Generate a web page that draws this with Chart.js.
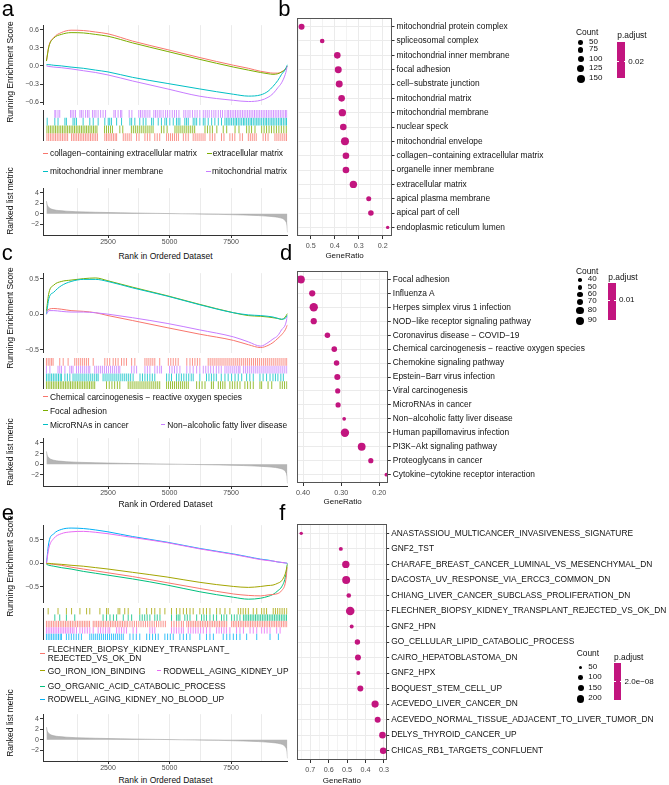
<!DOCTYPE html>
<html>
<head>
<meta charset="utf-8">
<script src="https://cdn.jsdelivr.net/npm/chart.js@4.4.1/dist/chart.umd.min.js"></script>
<style>
  body { margin: 0; background: #fff; }
  #fig { position: relative; width: 669px; height: 785px; overflow: hidden; font-family: "Liberation Sans", Arial, sans-serif; }
  #fig canvas { position: absolute; }
  .t { position: absolute; white-space: nowrap; line-height: 1; }
</style>
</head>
<body>
<div id="fig"></div>
<script>
// ---------- GSEA data (shared ranking) ----------
const rankMin = -140, rankMax = 9790;
const rankTicks = [2500, 5000, 7500];
const rankGrid = [1250, 2500, 3750, 5000, 6250, 7500, 8750];

const metricRank = [0, 30, 80, 150, 300, 500, 800, 1200, 2000, 3000, 4000, 5000, 6000, 7000, 8000, 8600, 9000, 9300, 9500, 9650, 9720, 9770, 9790];
const metricVal = [2.4, 1.7, 1.3, 1.0, 0.75, 0.6, 0.48, 0.38, 0.27, 0.17, 0.09, 0.02, -0.05, -0.13, -0.25, -0.36, -0.48, -0.62, -0.8, -1.1, -1.5, -2.3, -3.6];
const metricTicks = [4, 2, 0, -2];

const esRank = [0, 100, 300, 600, 1000, 1500, 2000, 2500, 3500, 4900, 6200, 7600, 8200, 8700, 9000, 9200, 9400, 9550, 9700, 9790];

// panel a
const esA_collagen = [0.08, 0.33, 0.47, 0.55, 0.59, 0.585, 0.56, 0.53, 0.41, 0.27, 0.14, 0.01, -0.04, -0.09, -0.11, -0.12, -0.12, -0.1, -0.05, 0.0];
const esA_ecm      = [0.08, 0.32, 0.46, 0.52, 0.55, 0.545, 0.52, 0.49, 0.38, 0.24, 0.11, -0.02, -0.07, -0.11, -0.13, -0.14, -0.13, -0.1, -0.06, 0.0];
const esA_inner    = [0.02, 0.02, 0.01, 0.0, -0.02, -0.04, -0.07, -0.1, -0.19, -0.29, -0.38, -0.47, -0.5, -0.48, -0.42, -0.34, -0.24, -0.14, -0.06, 0.02];
const esA_matrix   = [0.0, -0.01, -0.02, -0.03, -0.05, -0.08, -0.11, -0.15, -0.25, -0.38, -0.5, -0.57, -0.59, -0.57, -0.52, -0.46, -0.36, -0.28, -0.14, 0.0];
// panel c
const esC_chem   = [0.04, 0.07, 0.08, 0.07, 0.05, 0.04, 0.02, -0.02, -0.09, -0.19, -0.28, -0.37, -0.43, -0.47, -0.44, -0.4, -0.34, -0.29, -0.22, -0.15];
const esC_focal  = [0.05, 0.3, 0.41, 0.46, 0.48, 0.5, 0.51, 0.47, 0.38, 0.26, 0.14, 0.02, -0.02, -0.03, -0.04, -0.05, -0.06, -0.075, -0.04, 0.01];
const esC_mirna  = [0.0, 0.22, 0.31, 0.4, 0.46, 0.49, 0.49, 0.46, 0.37, 0.255, 0.135, 0.02, -0.01, -0.02, -0.03, -0.04, -0.06, -0.07, -0.06, -0.01];
const esC_nafld  = [0.0, 0.05, 0.05, 0.04, 0.03, 0.03, 0.02, 0.0, -0.05, -0.13, -0.22, -0.32, -0.39, -0.45, -0.4, -0.35, -0.3, -0.22, -0.15, -0.03];
// panel e
const esE_flechner = [0.0, -0.01, -0.02, -0.04, -0.08, -0.12, -0.16, -0.2, -0.28, -0.41, -0.53, -0.65, -0.68, -0.69, -0.67, -0.66, -0.64, -0.58, -0.42, -0.08];
const esE_iron     = [0.0, 0.0, -0.01, -0.02, -0.04, -0.06, -0.09, -0.12, -0.19, -0.29, -0.4, -0.49, -0.51, -0.49, -0.47, -0.46, -0.42, -0.37, -0.22, -0.02];
const esE_organic  = [-0.02, -0.04, -0.06, -0.09, -0.12, -0.17, -0.21, -0.25, -0.33, -0.46, -0.6, -0.72, -0.76, -0.74, -0.7, -0.66, -0.58, -0.5, -0.3, 0.0];
const esE_rodNoBl  = [0.0, 0.45, 0.63, 0.72, 0.75, 0.74, 0.71, 0.67, 0.57, 0.45, 0.32, 0.2, 0.14, 0.09, 0.07, 0.05, 0.03, 0.02, 0.01, 0.0];
const esE_rodUp    = [0.0, 0.33, 0.53, 0.63, 0.67, 0.68, 0.66, 0.63, 0.55, 0.44, 0.31, 0.19, 0.13, 0.08, 0.06, 0.05, 0.03, 0.02, 0.01, 0.0];

// rug hits, in hundreds of rank
const rugA_matrix = [3.4,3.8,4.7,5.4,9.8,10.4,11.1,11.8,13.6,14.2,14.9,15.9,16.7,17.3,18.7,19.4,20.1,21,22,23,24,27.4,28,29.1,30.1,30.6,33.6,34.7,37.5,38.2,38.9,39.7,40.4,41.2,42,43.6,44.3,45,45.8,46.5,47.4,48.4,49.2,50.1,51.1,52,52.8,53.8,55.8,56.6,57.5,58.3,59.3,60.3,61.2,62.3,63.7,64.5,65.3,66.1,67.1,68,68.8,69.8,70.7,71.5,72.5,73.4,74,74.7,75.4,76.1,76.8,77.5,78.2,78.9,79.6,80.3,81,81.7,82.4,83.1,83.8,84.5,85.2,85.9,86.6,87.3,88,88.7,89.4,90.1,90.8,91.5,92.2,92.9,93.6,94.3,95,95.7,96.4,97.1,97.6];
const rugA_inner = [0.3,3.4,4.7,7.5,8.1,10.8,11.5,12.2,14.9,17.6,19,21,23.7,25.1,25.7,26.4,28.5,30.5,33.9,34.6,35.9,37.9,39.3,40.4,42.7,43.4,45.4,46.7,48.1,48.8,50.1,51.5,52.8,53.5,54.2,56.2,56.9,57.6,59.6,60.3,61,62.3,63.7,64.4,65.7,67.1,68.4,69.8,71.1,72.5,73.2,73.8,74.5,75.2,75.9,76.6,77.2,77.9,78.6,79.3,80,80.6,81.3,82,82.7,83.3,84,84.7,85.4,86,86.7,87.4,88.1,88.8,89.4,90.1,90.8,91.5,92.1,92.8,93.5,94.2,94.9,95.5,96.2,96.9,97.5];
const rugA_ecm = [0.2,0.9,1.6,2.3,3,3.7,4.4,5.1,5.8,6.5,7.2,7.9,8.6,9.3,10,10.7,11.4,12.1,12.8,13.5,14.2,14.9,15.6,16.3,17,17.7,18.4,19.1,19.8,20.5,23.6,24.4,25.2,26,26.8,29.8,31,34.5,35.3,36.1,36.9,37.7,38.5,39.3,40.1,40.9,41.7,42.5,43.3,46.7,47.7,49,52.2,53,53.8,54.6,55.4,56.2,57,57.8,58.6,59.4,60.2,64.4,65.4,66.4,67.4,69.2,71.8,73.2,76.6,78.2,81.3,82.3,83.3,84.7,87.4,88.4,89.4,90.4,91.4,92.4,93.4,94.4,95.4,96.4,97.4];
const rugA_collagen = [0.2,0.9,1.6,2.3,3,3.7,4.4,5.1,5.8,6.5,7.2,7.9,8.6,10.2,10.9,11.6,12.3,13,13.7,14.4,15.1,15.8,16.5,17.2,17.9,18.6,19.3,20,20.7,23.7,24.4,25.1,25.8,26.5,27.2,27.9,28.5,31.2,32,32.8,33.6,34.4,36.6,37.6,40,41,42,44,45,46,48.8,49.6,50.4,51.2,52,52.8,53.6,55.6,56.6,57.6,59.6,60.4,61.2,62,62.8,63.6,64.4,66.4,67.4,68.4,71.1,72.1,74.5,75.5,76.5,78.6,79.6,82,82.8,83.6,84.4,85.2,88,89,90,92.8,93.6,94.4,95.2,96,96.8,97.5];

const rugC_chem = [0,0.7,1.4,2.1,2.7,5.4,6.8,8.8,11.5,12.3,13.1,13.9,14.7,15.5,16.3,17.1,19,23.7,24.7,25.7,27.1,28.1,29.1,30.5,31.5,32.5,34.6,35.9,40,40.8,41.6,42.4,43.2,44,46,49.5,50.5,51.5,52.5,53.5,57,58.3,59.3,60.3,61.3,62.3,65.7,66.5,67.3,68.1,68.9,69.7,70.5,71.3,72.1,72.9,73.7,74.5,75.3,76.1,76.9,77.7,78.5,79.3,80.1,80.9,81.7,82.5,83.3,84.1,84.9,85.7,86.5,87.3,88.1,88.9,89.7,90.5,91.3,92.1,92.9,93.7,94.5,95.3,96.1,96.9,97.6];
const rugC_nafld = [0,1.4,4.7,5.4,6.1,7.5,9.5,10.2,10.8,12.2,13,13.8,14.6,15.4,16.2,17,17.6,19.6,20.4,21.2,22,22.8,23.6,24.4,25.2,26,26.8,27.6,28.4,29.2,29.8,34.6,35.6,36.6,40,41,42,44,45,46,46.7,50,51,52,53,54.2,57,58.3,59.6,61,62.3,63.7,64.7,65.7,66.7,67.8,69,70,71,72.5,73.3,74.1,74.9,75.7,76.5,77.3,78.1,78.6,80,80.8,81.6,82.4,83.2,84,84.8,85.6,86.4,87.2,88,88.8,89.6,90.4,91.2,92,92.8,93.6,94.4,95.2,96,96.8,97.6];
const rugC_mirna = [0,0.7,1.4,2.1,2.8,3.5,4.2,4.9,5.6,6.1,7.5,8.5,9.5,10.8,11.6,12.4,13.2,14,14.8,15.6,16.4,17.2,18,18.8,19.6,20.4,21,23,23.8,24.6,25.4,26.2,27,27.8,28.6,29.4,30.2,31,31.8,32.6,33.4,34.2,35.2,38,39,40,41,42,43,44,48.8,49.8,50.8,52.8,53.8,54.8,55.8,56.8,57.8,58.8,59.6,62.3,65,66,67,68,69,71,72.5,73.8,75.2,76.6,77.9,79.3,81.3,82.6,84,86.7,88,89.4,90.8,92,93,94,95.2,96.2];
const rugC_focal = [0,0.7,1.4,2.1,2.8,3.5,4.2,4.9,5.6,6.3,7,7.7,8.4,9.1,9.8,10.5,11.2,11.9,12.6,13.3,14,14.7,15.4,16.1,16.8,17.5,18.2,18.9,19.6,24.4,25.5,26.6,27.7,28.8,29.8,33.2,34,34.8,35.6,36.4,37.2,38,38.8,39.6,40.4,41.2,42,42.8,43.6,44.4,45.2,46,48.8,49.6,50.4,51.2,52,52.8,53.6,54.4,55.2,56,56.8,57.6,61,62.1,63.2,64.4,67,67.8,69.8,70.7,71.6,72.5,74.5,75.5,76.5,77.5,78.6,80.6,81.7,82.8,84,86.7,87.4,90,91.5,94.9,95.8,96.7,97.6];

const rugE_iron = [0.7,4.7,8.1,10.2,13.6,16.3,17.6,21.7,24.4,25.1,29.1,29.8,31.8,33.2,37.9,40.7,42.7,44,46.1,48.1,50.8,52.8,54.2,55.6,56.9,58.3,59.6,62.3,63.7,65,66.4,69.1,70.5,72.5,74.5,77.9,78.9,79.9,80.9,82,84,85.4,87.4,88.4,89.4,92.1,93,93.9,94.8,95.7,96.6,97.6];
const rugE_organic = [3.4,5.4,8.1,11.5,23,24.4,25.8,27.2,28.5,31.2,33.2,34.6,37.9,38.9,39.9,40.9,42,44,45,46.1,50.8,52.8,53.5,54.2,56.2,57.2,58.3,61,63,64,65,66.4,67.8,69.1,71.1,72.1,73.2,75.2,76.3,77.4,78.6,80,80.7,81.4,82.1,82.8,83.5,84.2,84.9,85.6,86.3,87,87.7,88.4,89.1,89.8,90.5,91.2,91.9,92.6,93.3,94,94.7,95.4,96.1,96.8,97.5];
const rugE_flechner = [0,0.7,1.4,2.1,2.8,3.5,4.2,4.9,5.6,6.3,7,7.7,8.4,9.1,9.8,10.5,11.2,11.9,12.6,13.3,14,14.7,15.4,16.1,16.8,17.5,19,19.7,20.4,21.1,21.8,22.5,23.2,23.9,24.6,25.3,26,26.7,27.4,28.1,28.8,29.5,30.2,30.9,31.6,32.3,33,33.9,34.8,35.7,36.6,37.5,38.4,39.3,40.2,41.1,42,42.9,43.8,44.7,45.6,46.5,47.4,48.3,50.8,51.8,52.8,53.8,54.8,55.6,57,57.7,58.4,59.1,59.8,60.5,61.2,61.9,62.6,63.3,64,64.7,65.4,66.1,66.8,67.5,68.2,68.9,69.6,70.3,71,71.7,72.4,73.2,75.2,75.9,76.6,77.3,78,78.7,79.4,80.1,80.8,81.5,82.2,82.9,83.6,84.3,85,85.7,86.4,87.1,87.8,88.5,89.2,89.9,90.6,91.3,92,92.7,93.4,94.1,94.8,95.5,96.2,96.9,97.6];
const rugE_rodUp = [0,0.7,1.4,2.1,2.8,3.5,4.2,4.9,5.6,6.3,7,7.7,8.4,9.1,9.8,10.5,11.2,12.2,13.6,14.6,15.6,16.6,17.6,19,21,22,23,24,25,25.7,28.5,29.5,30.5,31.5,32.5,35.2,36.6,42,43,44,50.8,51.8,52.8,53.8,54.8,55.6,57.6,58.6,59.6,60.6,61.6,62.6,63.7,65,66.4,69.1,70.1,71.1,72.1,73.1,74.5,77.2,78.6,80,82.7,84,85.4,87.4,88.5,89.6,90.8,93.5,94.9];
const rugE_rodNoBl = [0,0.7,1.4,2.1,2.8,3.5,4.2,4.9,5.6,6.1,8.1,9.1,10.1,11.1,12.1,13.1,14.2,17.6,18.4,19.2,20,20.8,21.6,22.4,23.2,24,24.8,25.6,26.4,27.2,28,28.8,29.6,30.4,31.2,33.9,35.2,36.5,37.9,40.7,41.9,43.1,44.3,45.4,48.1,49.2,50.3,51.5,54.2,55.6,56.9,58.3,62.3,65,66.4,67.8,71.8,73.2,74.5,75.9,77.2,78.6,81.3,85.4,90.8,94.2];

// ---------- dot plot data ----------
const dotB_terms = ['mitochondrial protein complex', 'spliceosomal complex', 'mitochondrial inner membrane', 'focal adhesion', 'cell−substrate junction', 'mitochondrial matrix', 'mitochondrial membrane', 'nuclear speck', 'mitochondrial envelope', 'collagen−containing extracellular matrix', 'organelle inner membrane', 'extracellular matrix', 'apical plasma membrane', 'apical part of cell', 'endoplasmic reticulum lumen'];
const dotB_ratio = [0.538, 0.452, 0.389, 0.385, 0.381, 0.371, 0.368, 0.364, 0.357, 0.353, 0.353, 0.322, 0.258, 0.249, 0.179];
const dotB_count = [91, 50, 109, 120, 120, 109, 132, 109, 150, 109, 109, 132, 62, 79, 15];
const dotB_ticks = [0.5, 0.4, 0.3, 0.2];
const dotB_breaks = [50, 75, 100, 125, 150];

const dotD_terms = ['Focal adhesion', 'Influenza A', 'Herpes simplex virus 1 infection', 'NOD−like receptor signaling pathway', 'Coronavirus disease − COVID−19', 'Chemical carcinogenesis − reactive oxygen species', 'Chemokine signaling pathway', 'Epstein−Barr virus infection', 'Viral carcinogenesis', 'MicroRNAs in cancer', 'Non−alcoholic fatty liver disease', 'Human papillomavirus infection', 'PI3K−Akt signaling pathway', 'Proteoglycans in cancer', 'Cytokine−cytokine receptor interaction'];
const dotD_ratio = [0.406, 0.376, 0.372, 0.372, 0.336, 0.318, 0.312, 0.310, 0.309, 0.308, 0.292, 0.290, 0.246, 0.222, 0.181];
const dotD_count = [90, 70, 94, 70, 62, 62, 62, 68, 58, 58, 42, 94, 88, 58, 42];
const dotD_ticks = [0.4, 0.3, 0.2];
const dotD_breaks = [40, 50, 60, 70, 80, 90];

const dotF_terms = ['ANASTASSIOU_MULTICANCER_INVASIVENESS_SIGNATURE', 'GNF2_TST', 'CHARAFE_BREAST_CANCER_LUMINAL_VS_MESENCHYMAL_DN', 'DACOSTA_UV_RESPONSE_VIA_ERCC3_COMMON_DN', 'CHIANG_LIVER_CANCER_SUBCLASS_PROLIFERATION_DN', 'FLECHNER_BIOPSY_KIDNEY_TRANSPLANT_REJECTED_VS_OK_DN', 'GNF2_HPN', 'GO_CELLULAR_LIPID_CATABOLIC_PROCESS', 'CAIRO_HEPATOBLASTOMA_DN', 'GNF2_HPX', 'BOQUEST_STEM_CELL_UP', 'ACEVEDO_LIVER_CANCER_DN', 'ACEVEDO_NORMAL_TISSUE_ADJACENT_TO_LIVER_TUMOR_DN', 'DELYS_THYROID_CANCER_UP', 'CHICAS_RB1_TARGETS_CONFLUENT'];
const dotF_ratio = [0.749, 0.534, 0.507, 0.505, 0.491, 0.483, 0.475, 0.444, 0.441, 0.439, 0.428, 0.348, 0.334, 0.308, 0.304];
const dotF_count = [50, 72, 200, 222, 95, 245, 72, 125, 147, 72, 147, 192, 147, 170, 170];
const dotF_ticks = [0.7, 0.6, 0.5, 0.4, 0.3];
const dotF_breaks = [50, 100, 150, 200];

// ---------- colours ----------
const cRed = '#F8766D', cGreen = '#7CAE00', cCyan = '#00BFC4', cPurple = '#C77CFF';
const cOlive = '#A3A500', cTeal = '#00BF7D', cBlue = '#00B0F6', cPink = '#E76BF3';
const magenta = '#C2157F';

Chart.defaults.font.family = '"Liberation Sans", Arial, sans-serif';
const fig = document.getElementById('fig');

function addCanvas(x, y, w, h) {
  const c = document.createElement('canvas');
  c.width = w; c.height = h;
  c.style.left = x + 'px'; c.style.top = y + 'px';
  fig.appendChild(c);
  return c;
}

// y = visual centre of the text
function addText(str, x, y, o = {}) {
  const d = document.createElement('div');
  const fs = o.size || 8.5;
  d.className = 't';
  d.textContent = str;
  d.style.fontSize = fs + 'px';
  d.style.color = o.color || '#111';
  d.style.left = x + 'px';
  if (o.rotate) {
    d.style.top = y + 'px';
    d.style.transform = 'translate(-50%,-50%) rotate(-90deg)';
  } else {
    d.style.top = (y - fs / 2) + 'px';
    if (o.center) d.style.transform = 'translateX(-50%)';
  }
  fig.appendChild(d);
}

function addBox(x, y, w, h, color, radius) {
  const d = document.createElement('div');
  d.style.cssText = `position:absolute;left:${x}px;top:${y}px;width:${w}px;height:${h}px;background:${color};` + (radius ? 'border-radius:50%;' : '');
  fig.appendChild(d);
}

function baseOpts(scales, padLeft, padTop) {
  return {
    responsive: false, animation: false, events: [],
    layout: { padding: { left: padLeft || 0, right: padLeft ? 0 : 2.5, top: padTop || 0, bottom: 0 }, autoPadding: false },
    plugins: { legend: { display: false }, tooltip: { enabled: false } },
    scales
  };
}

const minus = v => (v < 0 ? '−' : '') + Math.abs(v);
const fmt1 = v => (v < 0 ? '−' : '') + Math.abs(v).toFixed(1);

function rankAxis(showLabels) {
  return {
    type: 'linear', min: rankMin, max: rankMax,
    afterBuildTicks: s => { s.ticks = rankGrid.map(v => ({ value: v })); },
    afterFit: s => { s.height = showLabels ? 14 : 0; },
    ticks: { display: showLabels, autoSkip: false, maxRotation: 0, font: { size: 7 }, color: '#4d4d4d', padding: 0,
      callback: v => rankTicks.includes(v) ? String(v) : '' },
    grid: { color: '#ebebeb', lineWidth: 1, drawTicks: showLabels, tickLength: 3,
      tickColor: ctx => (ctx.tick && rankTicks.includes(ctx.tick.value)) ? '#333' : 'rgba(0,0,0,0)' },
    border: { display: showLabels, color: '#333' }
  };
}

function leftAxis(min, max, ticks, fmt) {
  return {
    type: 'linear', min, max,
    afterFit: s => { s.width = 43; },
    afterBuildTicks: s => { s.ticks = ticks.map(v => ({ value: v })); },
    ticks: { callback: fmt, font: { size: 7 }, color: '#4d4d4d', padding: 1 },
    grid: { drawOnChartArea: false, tickLength: 3, tickColor: '#333' },
    border: { color: '#333', width: 1 }
  };
}

function esChart(top, bottom, curves, yMin, yMax, yTicks) {
  const cv = addCanvas(0, top, 290, bottom - top);
  new Chart(cv, {
    type: 'line',
    data: { datasets: curves.map(c => ({
      data: esRank.map((r, i) => ({ x: r, y: c.es[i] })),
      borderColor: c.color, borderWidth: 1, pointRadius: 0, cubicInterpolationMode: 'monotone'
    })) },
    options: baseOpts({ x: rankAxis(false), y: leftAxis(yMin, yMax, yTicks, fmt1) })
  });
}

function rugChart(top, bottom, rows) {
  const cv = addCanvas(0, top, 290, bottom - top);
  const rowH = (bottom - top) / rows.length;
  new Chart(cv, {
    type: 'scatter',
    data: { datasets: rows.map((row, i) => ({
      data: row.hits.map(h => ({ x: h * 100, y: i })),
      pointStyle: 'line', pointRotation: 90, pointRadius: rowH / 2,
      pointBorderWidth: 1, pointBorderColor: row.color + 'c8', borderColor: row.color
    })) },
    options: baseOpts({
      x: { type: 'linear', min: rankMin, max: rankMax, display: false },
      y: { type: 'linear', min: -0.5, max: rows.length - 0.5, reverse: true,
        afterFit: s => { s.width = 43; }, ticks: { display: false }, grid: { display: false }, border: { color: '#333' } }
    })
  });
}

function metricChart(top, bottom) {
  const cv = addCanvas(0, top, 290, bottom - top + 14);
  new Chart(cv, {
    type: 'line',
    data: { datasets: [{
      data: metricRank.map((r, i) => ({ x: r, y: metricVal[i] })),
      fill: 'origin', backgroundColor: '#b5b5b5', borderColor: '#a3a3a3', borderWidth: 0.6,
      pointRadius: 0, cubicInterpolationMode: 'monotone'
    }] },
    options: baseOpts({ x: rankAxis(true), y: leftAxis(-4.1, 4.9, metricTicks, minus) })
  });
}

function legendItem(label, color, keyX, textX, y) {
  addBox(keyX, y - 0.5, 4.5, 1.2, color);
  if (Array.isArray(label)) {
    addText(label[0], textX, y - 4.6, { size: 8.4 });
    addText(label[1], textX, y + 4.6, { size: 8.4 });
  } else addText(label, textX, y, { size: 8.4 });
}

function gseaPanel(p) {
  esChart(p.esTop, p.esBottom, p.curves, p.esMin, p.esMax, p.esTicks);
  rugChart(p.esBottom, p.rugBottom, p.rugs);
  metricChart(p.mTop, p.mBottom);
  addText('Running Enrichment Score', 10.3, p.esTitleY, { rotate: true, size: 8.5 });
  addText('Ranked list metric', 10.3, p.mTitleY, { rotate: true, size: 8.5 });
  addText('Rank in Ordered Dataset', 165.5, p.xTitleY, { center: true, size: 8.5 });
  p.legend.forEach(l => legendItem(l[0], l[1], l[2], l[3], l[4]));
}

// ---------- dot plots ----------
const boxPlugin = {
  id: 'box',
  afterDraw(chart) {
    const a = chart.chartArea, c = chart.ctx;
    c.save();
    c.strokeStyle = '#555'; c.lineWidth = 1;
    c.strokeRect(Math.round(a.left) + 0.5, Math.round(a.top) + 0.5, Math.round(a.right - a.left) - 1, Math.round(a.bottom - a.top) - 1);
    c.restore();
  }
};

function dotChart(d) {
  const h = Math.round(d.bottom - d.top);
  const cv = addCanvas(290, d.top - 1, 379, h + 1 + 22);
  const isMajor = v => d.ticks.some(t => Math.abs(t - v) < 1e-9);
  new Chart(cv, {
    type: 'bubble',
    data: { datasets: [{
      data: d.ratio.map((x, i) => ({ x, y: i + 1, r: d.radius(d.count[i]) })),
      backgroundColor: magenta, borderWidth: 0
    }] },
    options: baseOpts({
      x: { type: 'linear', reverse: true, min: d.xMin, max: d.xMax,
        afterBuildTicks: s => { s.ticks = d.grid.map(v => ({ value: v })); },
        afterFit: s => { s.height = 22; },
        ticks: { autoSkip: false, maxRotation: 0, font: { size: 7.2 }, color: '#4d4d4d', padding: 3,
          callback: v => isMajor(v) ? v.toFixed(d.dec) : '' },
        grid: { color: '#ebebeb', lineWidth: ctx => (ctx.tick && isMajor(ctx.tick.value)) ? 1 : 0.6, tickLength: 3,
          tickColor: ctx => (ctx.tick && isMajor(ctx.tick.value)) ? '#333' : 'rgba(0,0,0,0)' },
        border: { display: false } },
      y: { type: 'linear', position: 'right', reverse: true, min: 0.4, max: d.terms.length + 0.6,
        afterBuildTicks: s => { s.ticks = d.terms.map((t, i) => ({ value: i + 1 })); },
        afterFit: s => { s.width = 669 - d.right; },
        ticks: { autoSkip: false, font: { size: 8.4 }, color: '#111', padding: 2, callback: v => d.terms[v - 1] },
        grid: { color: '#ebebeb', tickLength: 2.5, tickColor: '#333' },
        border: { display: false } }
    }, d.left - 290, 1),
    plugins: [boxPlugin]
  });
  addText('GeneRatio', (d.left + d.right) / 2, d.xTitleY, { center: true, size: 8 });
}

function dotLegend(L) {
  addText('Count', L.titleX, L.titleY, { size: 8.4 });
  L.breaks.forEach((c, i) => {
    const r = L.radius(c);
    addBox(L.circleX - r, L.keyY[i] - r, 2 * r, 2 * r, '#000', true);
    addText(String(c), L.labelX, L.keyY[i] - 0.8, { size: 8 });
  });
  addText('p.adjust', L.pX, L.pTitleY, { size: 8.4 });
  addBox(L.pX, L.barTop, L.barW, L.barBottom - L.barTop, magenta);
  addBox(L.pX, L.pLabelY - 0.4, 1.5, 0.8, '#fff');
  addBox(L.pX + L.barW - 1.5, L.pLabelY - 0.4, 1.5, 0.8, '#fff');
  addText(L.pLabel, L.pX + L.barW + 3.3, L.pLabelY, { size: 8 });
}

const radiusB = c => 2.3 + 1.7 * (c - 50) / 100;
const radiusD = c => 1.8 + 2.2 * (c - 40) / 50;
const radiusF = c => 1.7 + 2.0 * (c - 50) / 150;

// ---------- panel a ----------
gseaPanel({
  esTop: 20, esBottom: 110, rugBottom: 141, mTop: 183, mBottom: 235,
  esMin: -0.644, esMax: 0.673, esTicks: [0.6, 0.3, 0, -0.3, -0.6],
  curves: [
    { es: esA_matrix, color: cPurple }, { es: esA_inner, color: cCyan },
    { es: esA_ecm, color: cGreen }, { es: esA_collagen, color: cRed }
  ],
  rugs: [
    { hits: rugA_matrix, color: cPurple }, { hits: rugA_inner, color: cCyan },
    { hits: rugA_ecm, color: cGreen }, { hits: rugA_collagen, color: cRed }
  ],
  esTitleY: 72, mTitleY: 201, xTitleY: 256,
  legend: [
    ['collagen−containing extracellular matrix', cRed, 43.3, 50, 153.3],
    ['extracellular matrix', cGreen, 207, 212.7, 153.3],
    ['mitochondrial inner membrane', cCyan, 43.3, 50, 171],
    ['mitochondrial matrix', cPurple, 206.3, 212, 171]
  ]
});

// ---------- panel c ----------
gseaPanel({
  esTop: 268, esBottom: 358, rugBottom: 389, mTop: 433, mBottom: 486,
  esMin: -0.544, esMax: 0.577, esTicks: [0.5, 0, -0.5],
  curves: [
    { es: esC_nafld, color: cPurple }, { es: esC_chem, color: cRed },
    { es: esC_mirna, color: cCyan }, { es: esC_focal, color: cGreen }
  ],
  rugs: [
    { hits: rugC_chem, color: cRed }, { hits: rugC_nafld, color: cPurple },
    { hits: rugC_mirna, color: cCyan }, { hits: rugC_focal, color: cGreen }
  ],
  esTitleY: 318, mTitleY: 452, xTitleY: 504.3,
  legend: [
    ['Chemical carcinogenesis − reactive oxygen species', cRed, 43.3, 50, 396.7],
    ['Focal adhesion', cGreen, 43.3, 50, 410.7],
    ['MicroRNAs in cancer', cCyan, 43.3, 50, 424.7],
    ['Non−alcoholic fatty liver disease', cPurple, 160.7, 167.3, 424.7]
  ]
});

// ---------- panel e ----------
gseaPanel({
  esTop: 520, esBottom: 608, rugBottom: 640, mTop: 709, mBottom: 761,
  esMin: -0.837, esMax: 0.811, esTicks: [0.5, 0, -0.5],
  curves: [
    { es: esE_iron, color: cOlive }, { es: esE_flechner, color: cRed }, { es: esE_organic, color: cTeal },
    { es: esE_rodUp, color: cPink }, { es: esE_rodNoBl, color: cBlue }
  ],
  rugs: [
    { hits: rugE_iron, color: cOlive }, { hits: rugE_organic, color: cTeal }, { hits: rugE_flechner, color: cRed },
    { hits: rugE_rodUp, color: cPink }, { hits: rugE_rodNoBl, color: cBlue }
  ],
  esTitleY: 566, mTitleY: 723, xTitleY: 780.7,
  legend: [
    [['FLECHNER_BIOPSY_KIDNEY_TRANSPLANT_', 'REJECTED_VS_OK_DN'], cRed, 40, 47.7, 653.7],
    ['GO_IRON_ION_BINDING', cOlive, 40, 47.7, 670.7],
    ['RODWELL_AGING_KIDNEY_UP', cPink, 156.7, 163.3, 670.7],
    ['GO_ORGANIC_ACID_CATABOLIC_PROCESS', cTeal, 40, 47.7, 686],
    ['RODWELL_AGING_KIDNEY_NO_BLOOD_UP', cBlue, 40, 47.7, 699.3]
  ]
});

// ---------- panel b ----------
dotChart({ terms: dotB_terms, ratio: dotB_ratio, count: dotB_count, radius: radiusB,
  left: 297, right: 392, top: 12, bottom: 236, xMin: 0.161, xMax: 0.557,
  ticks: dotB_ticks, grid: [0.55, 0.5, 0.45, 0.4, 0.35, 0.3, 0.25, 0.2], dec: 1, xTitleY: 256 });
dotLegend({ titleX: 576, titleY: 32.5, breaks: dotB_breaks, radius: radiusB, circleX: 580.7, labelX: 589,
  keyY: [42.3, 50.2, 59.3, 68.5, 78.5], pX: 617.3, pTitleY: 35.5, barTop: 42.3, barBottom: 78.3, barW: 7.7,
  pLabel: '0.02', pLabelY: 61.7 });

// ---------- panel d ----------
dotChart({ terms: dotD_terms, ratio: dotD_ratio, count: dotD_count, radius: radiusD,
  left: 297, right: 388.3, top: 265, bottom: 483.3, xMin: 0.176, xMax: 0.416,
  ticks: dotD_ticks, grid: [0.4, 0.35, 0.3, 0.25, 0.2], dec: 2, xTitleY: 501.7 });
dotLegend({ titleX: 576, titleY: 270.7, breaks: dotD_breaks, radius: radiusD, circleX: 580, labelX: 587.7,
  keyY: [280, 287.3, 294.3, 302, 310.3, 320.5], pX: 608.3, pTitleY: 277.3, barTop: 282.7, barBottom: 320, barW: 7.4,
  pLabel: '0.01', pLabelY: 300 });

// ---------- panel f ----------
dotChart({ terms: dotF_terms, ratio: dotF_ratio, count: dotF_count, radius: radiusF,
  left: 297, right: 386.7, top: 518.3, bottom: 760, xMin: 0.285, xMax: 0.772,
  ticks: dotF_ticks, grid: [0.75, 0.7, 0.65, 0.6, 0.55, 0.5, 0.45, 0.4, 0.35, 0.3], dec: 1, xTitleY: 781 });
dotLegend({ titleX: 576.7, titleY: 652.7, breaks: dotF_breaks, radius: radiusF, circleX: 580.7, labelX: 588.3,
  keyY: [667.3, 677.7, 688.3, 699], pX: 614, pTitleY: 657.3, barTop: 662.7, barBottom: 700, barW: 7.3,
  pLabel: '2.0e−08', pLabelY: 681.7 });

// ---------- panel letters ----------
[['a', 1.7, 16.7], ['b', 278.3, 17], ['c', 1.7, 260.7], ['d', 280, 260.7], ['e', 1.7, 521], ['f', 279.3, 521]].forEach(([s, x, base]) => {
  const d = document.createElement('div');
  d.className = 't';
  d.textContent = s;
  d.style.fontSize = '22px';
  d.style.color = '#000';
  d.style.left = x + 'px';
  d.style.top = (base - 0.8465 * 22) + 'px';
  fig.appendChild(d);
});
</script>
</body>
</html>
